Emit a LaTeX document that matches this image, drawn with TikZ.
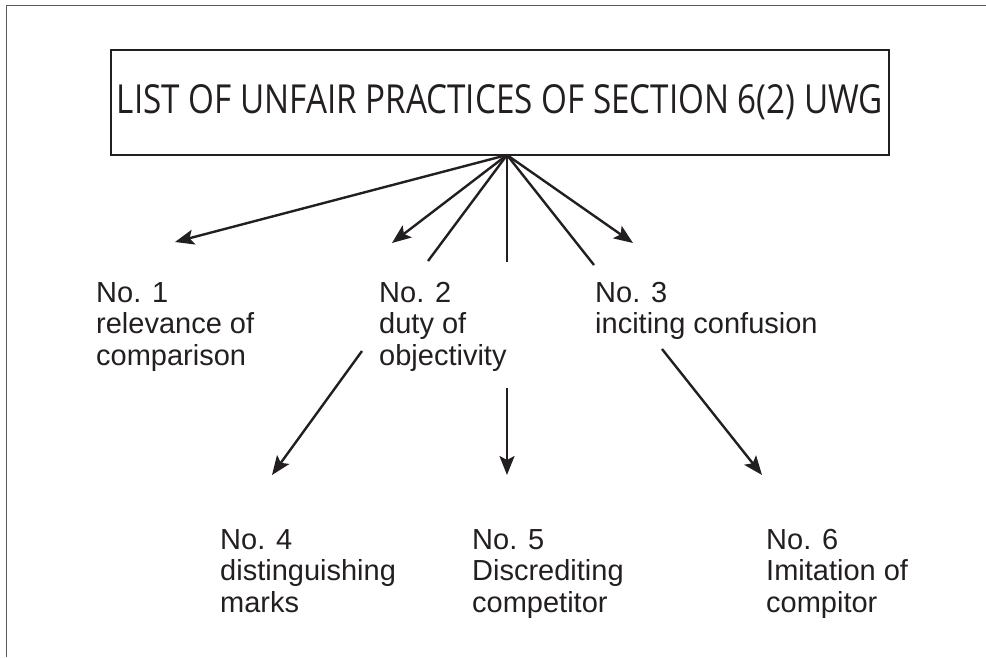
\documentclass[tikz,border=0pt]{standalone}
\usepackage{graphicx}
\usepackage{fontspec}
\setmainfont{Liberation Sans}
\newfontfamily\titlefont{Open Sans}
\usetikzlibrary{arrows.meta}
\definecolor{ink}{HTML}{231F20}
\definecolor{framegray}{HTML}{5A5A5A}

\begin{document}
\begin{tikzpicture}[x=1pt,y=-1pt,
  conn/.style={line width=2.4pt, draw=ink},
  arr/.style={conn, -{Stealth[length=19pt,width=15pt,inset=4pt]}},
  lbl/.style={anchor=north west, inner sep=0pt, align=left, text=ink,
    font=\fontsize{29}{31.5}\selectfont},
  titlebox/.style={draw=ink, line width=2.2pt, minimum width=778pt,
    minimum height=105pt, inner sep=0pt, text=ink},
]
\useasboundingbox (0,0) rectangle (986,657);

% page frame (top and left edges)
\draw[line width=1.5pt, framegray] (986,5.5) -- (6.5,5.5) -- (6.5,657);

% heading
\node[titlebox] (title) at (500,102.5)
  {\resizebox{766pt}{\height}{\titlefont\fontsize{40}{40}\selectfont LIST OF UNFAIR PRACTICES OF SECTION 6(2) UWG}};
\coordinate (hub) at (507,155);

% first row of practices
\node[lbl] (n1) at (96,282)  {No. 1\\relevance of\\comparison};
\node[lbl] (n2) at (379,282) {No. 2\\duty of\\objectivity};
\node[lbl] (n3) at (595,282) {No. 3\\inciting confusion};

% second row of practices
\node[lbl] (n4) at (220,529) {No. 4\\distinguishing\\marks};
\node[lbl] (n5) at (472,529) {No. 5\\Discrediting\\competitor};
\node[lbl] (n6) at (766,529) {No. 6\\Imitation of\\compitor};

% end points of the connectors
\coordinate (t1) at (175,242);
\coordinate (t2) at (392,243);
\coordinate (t3) at (633,243);
\coordinate (s4) at (428,261);
\coordinate (s5) at (507,262);
\coordinate (s6) at (594,265);
\coordinate (b4) at (362,351);
\coordinate (e4) at (272,475);
\coordinate (b5) at (507,388);
\coordinate (e5) at (507,475);
\coordinate (b6) at (662,349);
\coordinate (e6) at (762,475);

% fan from the heading
\draw[arr] (hub) -- (t1);
\draw[arr] (hub) -- (t2);
\draw[arr] (hub) -- (t3);
\draw[conn] (hub) -- (s4);
\draw[conn] (hub) -- (s5);
\draw[conn] (hub) -- (s6);

% continuations to the second row
\draw[arr] (b4) -- (e4);
\draw[arr] (b5) -- (e5);
\draw[arr] (b6) -- (e6);
\end{tikzpicture}
\end{document}
